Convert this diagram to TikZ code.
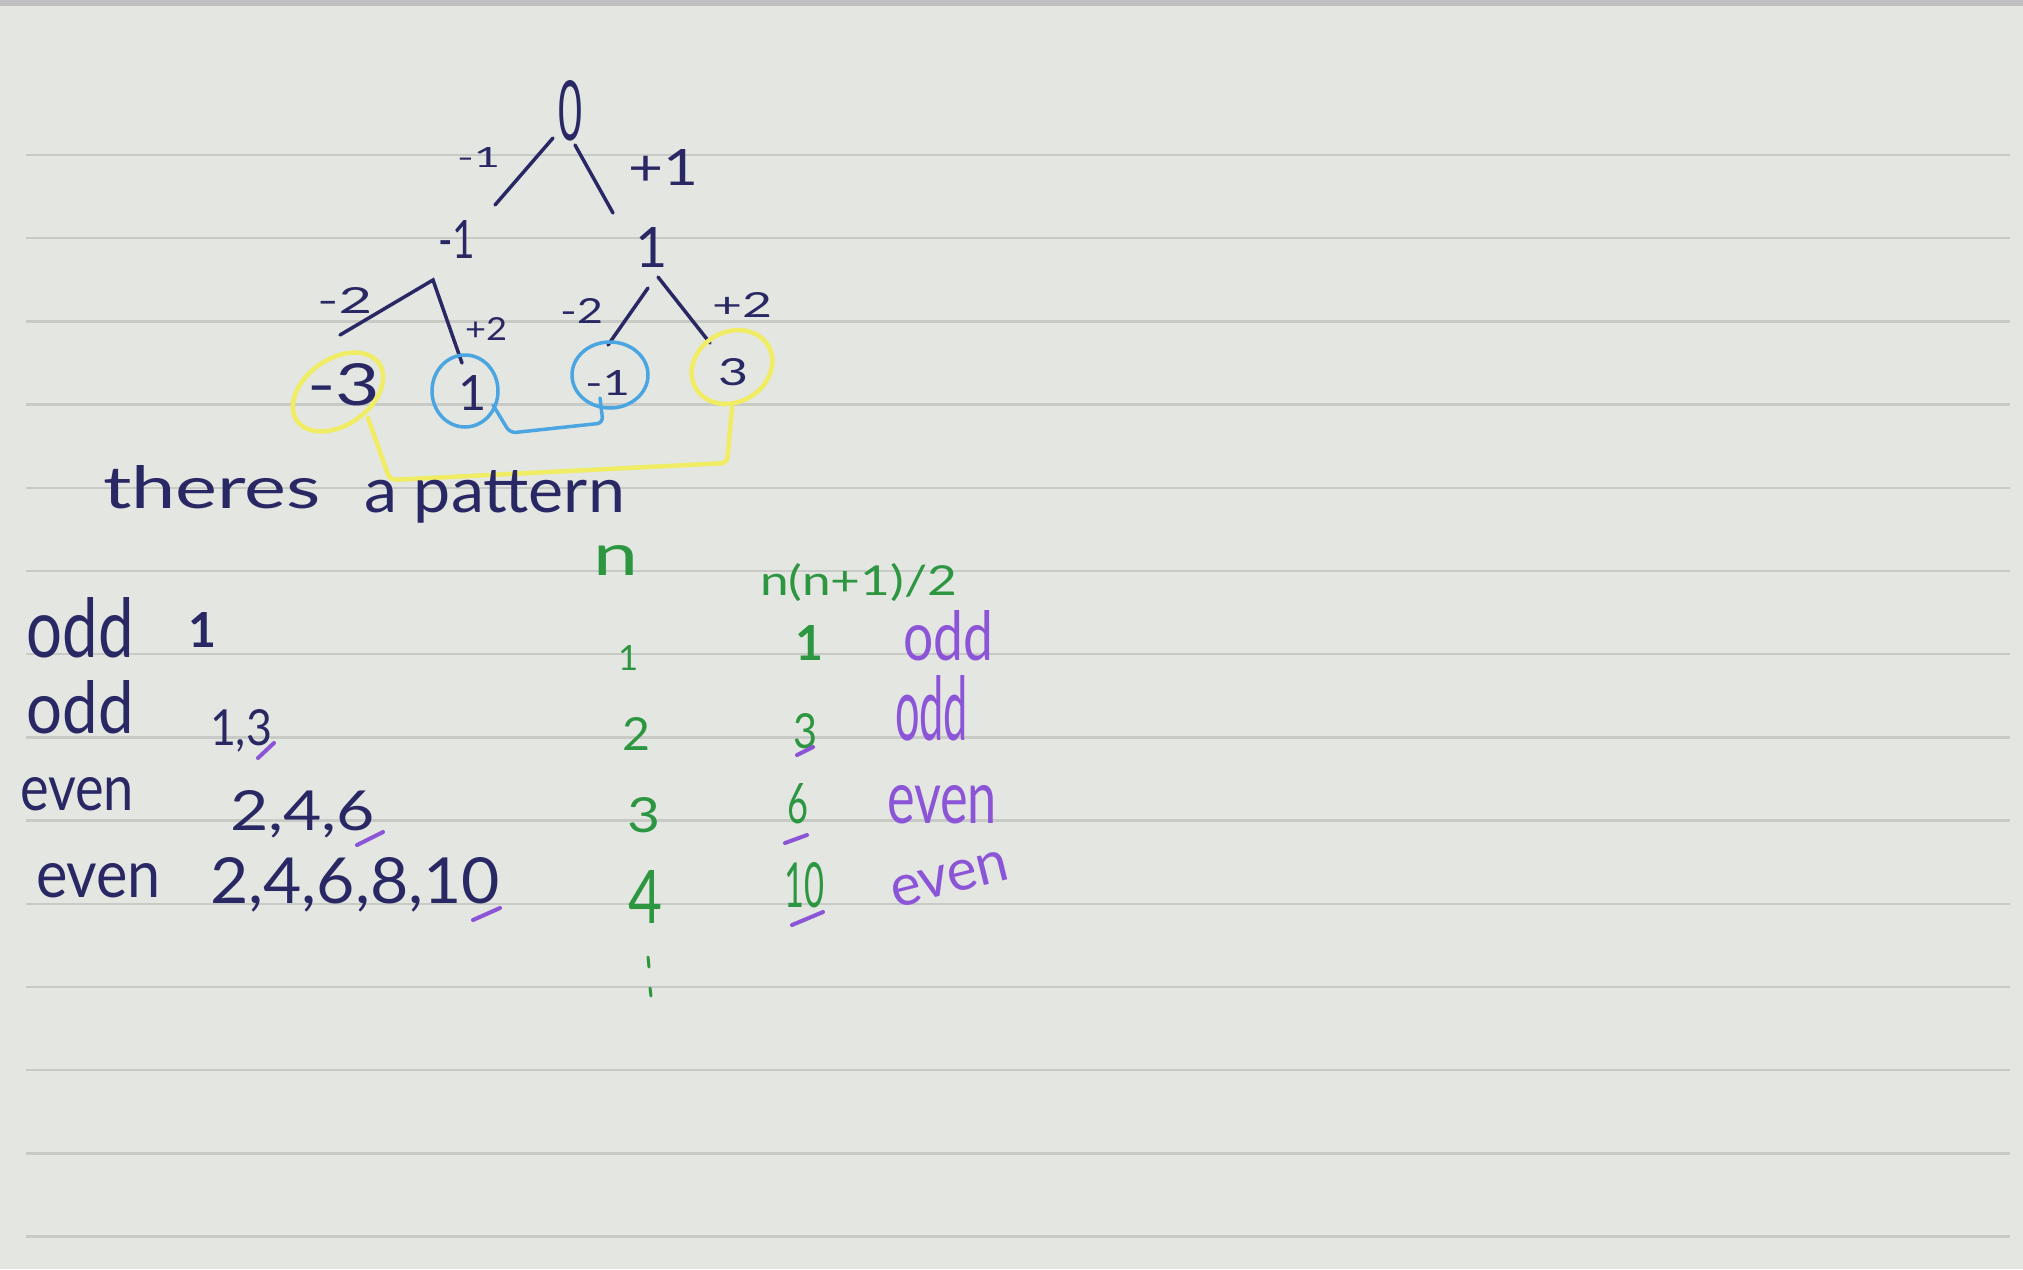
\documentclass[tikz,border=0pt]{standalone}
\usepackage{fontspec}
\setmainfont{Lato}
\usetikzlibrary{shapes.geometric}
\definecolor{bg}{RGB}{228,230,225}
\definecolor{rulegray}{RGB}{200,202,198}
\definecolor{topbar}{RGB}{192,192,192}
\definecolor{navy}{RGB}{42,40,100}
\definecolor{inkgreen}{RGB}{45,150,65}
\definecolor{inkpurple}{RGB}{140,85,215}
\definecolor{inkyellow}{RGB}{240,236,100}
\definecolor{inkblue}{RGB}{75,165,225}
\newcommand\hwt[3]{\resizebox{#1}{#2}{#3}}
\begin{document}
\begin{tikzpicture}[x=1pt,y=-1pt,
  hw/.style={inner sep=0pt, outer sep=0pt, anchor=base west, font=\fontsize{60}{70}\selectfont},
  nv/.style={hw,text=navy},
  gr/.style={hw,text=inkgreen},
  pu/.style={hw,text=inkpurple},
  treeline/.style={draw=navy, line width=3.5pt, line cap=round},
  chk/.style={draw=inkpurple, line width=4pt, line cap=round},
  yring/.style={draw=inkyellow, line width=4.5pt, ellipse, inner sep=0pt},
  bring/.style={draw=inkblue, line width=3.5pt, ellipse, inner sep=0pt},
  ylink/.style={draw=inkyellow, line width=4.5pt, line cap=round, line join=round, rounded corners=6pt},
  blink/.style={draw=inkblue, line width=3.5pt, line cap=round, line join=round, rounded corners=6pt},
]
\useasboundingbox (0,0) rectangle (2023,1269);
\fill[bg] (0,0) rectangle (2023,1269);
\fill[topbar] (0,0) rectangle (2023,6);
\foreach \k in {0,...,13}
  \draw[rulegray, line width=2.5pt] (26,{155+83.2*\k}) -- (2010,{155+83.2*\k});

% ---- tree ----
\node[nv] (t0) at (558,140) {\hwt{24pt}{60pt}{0}};
\node[nv] (lm1) at (457,167) {\hwt{43pt}{20pt}{-1}};
\node[nv] (lp1) at (628,185) {\hwt{70pt}{36pt}{+1}};
\node[nv] (nm1) at (438,258) {\hwt{37pt}{38pt}{-1}};
\node[nv] (np1) at (635,267) {\hwt{!}{40pt}{1}};
\node[nv] (lm2a) at (317,313) {\hwt{55pt}{26pt}{-2}};
\node[nv] (lp2a) at (465,340) {\hwt{42pt}{23pt}{+2}};
\node[nv] (lm2b) at (560,323) {\hwt{43pt}{25pt}{-2}};
\node[nv] (lp2b) at (712,317) {\hwt{60pt}{25pt}{+2}};
\node[nv] (leafa) at (307,405) {\hwt{73pt}{42pt}{-3}};
\node[nv] (leafb) at (458,410) {\hwt{!}{35pt}{1}};
\node[nv] (leafc) at (585,395) {\hwt{45pt}{25pt}{-1}};
\node[nv] (leafd) at (718,385) {\hwt{30pt}{27pt}{3}};

\coordinate (e1a) at (553,138); \coordinate (e1b) at (495,205);
\coordinate (e2a) at (575,145); \coordinate (e2b) at (613,213);
\coordinate (e3a) at (433,280); \coordinate (e3b) at (340,335);
\coordinate (e4b) at (462,363);
\coordinate (e5a) at (648,288); \coordinate (e5b) at (608,345);
\coordinate (e6a) at (658,277); \coordinate (e6b) at (710,343);
\draw[treeline] (e1a) -- (e1b);
\draw[treeline] (e2a) -- (e2b);
\draw[treeline] (e3b) -- (e3a) -- (e4b);
\draw[treeline] (e5a) -- (e5b);
\draw[treeline] (e6a) -- (e6b);

% rings
\node[yring, minimum width=100pt, minimum height=66pt, rotate=35] (ra) at (338,392) {};
\node[bring, minimum width=66pt, minimum height=72pt] (rb) at (465,391) {};
\node[bring, minimum width=76pt, minimum height=66pt] (rc) at (610,375) {};
\node[yring, minimum width=84pt, minimum height=70pt, rotate=30] (rd) at (732,367) {};

\coordinate (b1) at (493,405); \coordinate (b2) at (510,433);
\coordinate (b3) at (603,423); \coordinate (b4) at (600,398);
\draw[blink] (b1) -- (b2) -- (b3) -- (b4);
\coordinate (y1) at (368,418); \coordinate (y2) at (390,480);
\coordinate (y3) at (727,463); \coordinate (y4) at (732,408);
\draw[ylink] (y1) -- (y2) -- (y3) -- (y4);

% ---- text ----
\node[nv] (th) at (103,508) {\hwt{218pt}{43pt}{theres}};
\node[nv] (pat) at (364,512) {\hwt{261pt}{42pt}{a pattern}};

\node[nv] (odda) at (27,657) {\hwt{107pt}{60pt}{odd}};
\node[nv] (seqa) at (188,647) {\hwt{!}{35pt}{\bfseries 1}};
\node[nv] (oddb) at (27,733) {\hwt{107pt}{53pt}{odd}};
\node[nv] (seqb) at (210,745) {\hwt{62pt}{36pt}{1,3}};
\node[nv] (evena) at (20,810) {\hwt{114pt}{33pt}{even}};
\node[nv] (seqc) at (230,830) {\hwt{145pt}{40pt}{2,4,6}};
\node[nv] (evenb) at (36,897) {\hwt{125pt}{34pt}{even}};
\node[nv] (seqd) at (210,903) {\hwt{290pt}{46pt}{2,4,6,8,10}};

% green column n
\node[gr] (nh) at (593,575) {\hwt{45pt}{30pt}{n}};
\node[gr] (n1) at (618,670) {\hwt{!}{25pt}{1}};
\node[gr] (n2) at (622,750) {\hwt{28pt}{33pt}{2}};
\node[gr] (n3) at (627,832) {\hwt{33pt}{35pt}{3}};
\node[gr] (n4) at (628,923) {\hwt{34pt}{53pt}{4}};
\coordinate (d1a) at (648,957); \coordinate (d1b) at (649,967);
\coordinate (d2a) at (650,988); \coordinate (d2b) at (651,996);
\draw[draw=inkgreen, line width=3pt, line cap=round] (d1a) -- (d1b);
\draw[draw=inkgreen, line width=3pt, line cap=round] (d2a) -- (d2b);

% green column n(n+1)/2
\node[gr] (fh) at (760,595) {\hwt{197pt}{32pt}{n(n+1)/2}};
\node[gr] (f1) at (795,660) {\hwt{!}{35pt}{\bfseries 1}};
\node[gr] (f3) at (793,748) {\hwt{24pt}{35pt}{3}};
\node[gr] (f6) at (787,823) {\hwt{21pt}{40pt}{6}};
\node[gr] (f10) at (784,907) {\hwt{40pt}{45pt}{10}};

% purple words
\node[pu] (pa) at (903,660) {\hwt{90pt}{50pt}{odd}};
\node[pu] (pb) at (895,740) {\hwt{73pt}{65pt}{odd}};
\node[pu] (pc) at (887,823) {\hwt{110pt}{38pt}{even}};
\node[pu, rotate=14] (pd) at (895,908) {\hwt{120pt}{30pt}{even}};

% purple check marks
\coordinate (c1a) at (258,758); \coordinate (c1b) at (274,743);
\coordinate (c2a) at (357,845); \coordinate (c2b) at (383,832);
\coordinate (c3a) at (473,920); \coordinate (c3b) at (500,908);
\coordinate (c4a) at (797,755); \coordinate (c4b) at (813,747);
\coordinate (c5a) at (785,843); \coordinate (c5b) at (807,835);
\coordinate (c6a) at (792,925); \coordinate (c6b) at (823,912);
\draw[chk] (c1a) -- (c1b);
\draw[chk] (c2a) -- (c2b);
\draw[chk] (c3a) -- (c3b);
\draw[chk] (c4a) -- (c4b);
\draw[chk] (c5a) -- (c5b);
\draw[chk] (c6a) -- (c6b);
\end{tikzpicture}
\end{document}
